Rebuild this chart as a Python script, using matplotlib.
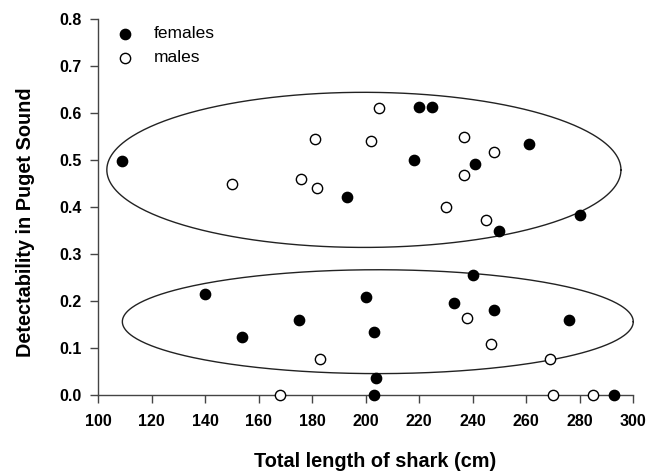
import matplotlib
matplotlib.use("Agg")
import matplotlib.pyplot as plt
import numpy as np

plt.rcParams['font.family'] = ['Liberation Sans', 'DejaVu Sans']

females_x = [109, 193, 220, 225, 261, 218, 241, 250, 280, 140, 200, 175, 203, 154, 204, 203, 240, 233, 248, 276, 293]
females_y = [0.497, 0.421, 0.613, 0.613, 0.533, 0.500, 0.492, 0.350, 0.383, 0.215, 0.209, 0.159, 0.133, 0.123, 0.037, 0.0, 0.256, 0.195, 0.181, 0.159, 0.0]
males_x = [150, 181, 202, 176, 182, 205, 237, 248, 237, 230, 245, 183, 168, 238, 247, 269, 270, 285]
males_y = [0.450, 0.545, 0.540, 0.460, 0.440, 0.610, 0.549, 0.516, 0.468, 0.400, 0.372, 0.077, 0.0, 0.164, 0.109, 0.077, 0.0, 0.0]

# ellipses: center x, center y, half-width, half-height
ell_upper = (199.4, 0.479, 96.1, 0.165)
ell_lower = (204.6, 0.156, 95.5, 0.1105)

xticks = [100, 120, 140, 160, 180, 200, 220, 240, 260, 280, 300]
yticks = [0.0, 0.1, 0.2, 0.3, 0.4, 0.5, 0.6, 0.7, 0.8]

fig = plt.figure(figsize=(6.58, 4.74), dpi=100)
ax = fig.add_axes([98/658, 1-395/474, (633-98)/658, (395-19)/474])

t = np.linspace(0, 2*np.pi, 400)
for cx, cy, a, b in (ell_upper, ell_lower):
    ax.plot(cx + a*np.cos(t), cy + b*np.sin(t), color='#222222', lw=1.0, clip_on=False, zorder=2)

ax.scatter(females_x, females_y, s=55, facecolor='black', edgecolor='black', lw=1, zorder=4, clip_on=False, label='females')
ax.scatter(males_x, males_y, s=55, facecolor='white', edgecolor='black', lw=1, zorder=4, clip_on=False, label='males')

ax.set_xlim(100, 300)
ax.set_ylim(0, 0.8)
ax.set_xticks(xticks)
ax.set_yticks(yticks)
ax.set_xticklabels([str(v) for v in xticks], fontweight='bold', fontsize=11.5)
ax.set_yticklabels([f"{v:.1f}" for v in yticks], fontweight='bold', fontsize=11.5)
for s in ['top', 'right']:
    ax.spines[s].set_visible(False)
for s in ['left', 'bottom']:
    ax.spines[s].set_color('#444444')
    ax.spines[s].set_linewidth(1.0)
ax.tick_params(direction='out', length=6, width=1, color='#444444')
ax.tick_params(axis='x', pad=8)
ax.tick_params(axis='y', pad=6)

ax.set_xlabel('Total length of shark (cm)', fontweight='bold', fontsize=14.3, va='center')
ax.set_ylabel('Detectability in Puget Sound', fontweight='bold', fontsize=14.3, va='center')
ax.xaxis.set_label_coords(0.518, -0.178)
ax.yaxis.set_label_coords(-0.136, 0.46)

ax.legend(loc='upper left', bbox_to_anchor=(0.034, 0.981), frameon=False, fontsize=12.5,
          handlelength=1.0, handletextpad=1.17, labelspacing=0.5, borderpad=0, borderaxespad=0)

fig.savefig('out.png', dpi=100)
